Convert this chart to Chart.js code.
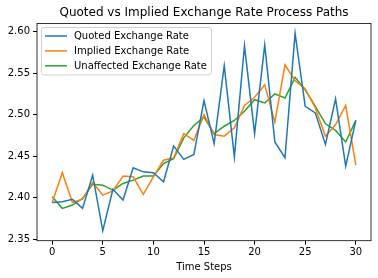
<!DOCTYPE html>
<html lang="en">
<head>
  <meta charset="UTF-8" />
  <title>Quoted vs Implied Exchange Rate Process Paths</title>
  <script src="https://cdn.jsdelivr.net/npm/chart.js"></script>
  <style>
    html, body { margin: 0; padding: 0; background: #fff; }
    #wrap { width: 378px; height: 278px; }
  </style>
</head>
<body>
  <div id="wrap"><canvas id="chartPaths" width="378" height="278"></canvas></div>

  <script>
    // data
    const steps = [0, 1, 2, 3, 4, 5, 6, 7, 8, 9, 10, 11, 12, 13, 14, 15, 16, 17, 18, 19, 20, 21, 22, 23, 24, 25, 26, 27, 28, 29, 30];
    const quoted = [2.394, 2.395, 2.398, 2.387, 2.427, 2.360, 2.410, 2.397, 2.436, 2.431, 2.430, 2.419, 2.462, 2.446, 2.452, 2.517,
      2.465, 2.559, 2.449, 2.583, 2.477, 2.584, 2.467, 2.448, 2.598, 2.510, 2.502, 2.464, 2.519, 2.438, 2.493];
    const implied = [2.394, 2.430, 2.394, 2.398, 2.418, 2.403, 2.408, 2.426, 2.425, 2.404, 2.425, 2.445, 2.448, 2.477, 2.469, 2.500,
      2.476, 2.474, 2.484, 2.511, 2.521, 2.536, 2.491, 2.560, 2.541, 2.531, 2.508, 2.474, 2.488, 2.511, 2.439];
    const unaffected = [2.401, 2.387, 2.391, 2.399, 2.416, 2.415, 2.409, 2.417, 2.421, 2.426, 2.426, 2.441, 2.447, 2.472, 2.487, 2.497,
      2.477, 2.486, 2.493, 2.504, 2.518, 2.514, 2.525, 2.520, 2.545, 2.530, 2.510, 2.489, 2.481, 2.467, 2.493];
    const seriesNames = ['Quoted Exchange Rate', 'Implied Exchange Rate', 'Unaffected Exchange Rate'];
    const seriesColors = ['#1f77b4', '#ff7f0e', '#2ca02c'];
    const xTicks = [0, 5, 10, 15, 20, 25, 30];
    const yTicks = [2.35, 2.40, 2.45, 2.50, 2.55, 2.60];

    const FONT = 'DejaVu Sans';

    function toPoints(vals) {
      return steps.map((s, i) => ({ x: s, y: vals[i] }));
    }

    // matplotlib style frame + legend inside the axes
    const framePlugin = {
      id: 'frame',
      afterDatasetsDraw(chart) {
        const ctx = chart.ctx;
        const a = chart.chartArea;
        ctx.save();
        ctx.strokeStyle = '#000';
        ctx.lineWidth = 0.8;
        ctx.strokeRect(a.left, a.top, a.right - a.left, a.bottom - a.top);

        // legend box
        const bx = 41.5, by = 27.5, bw = 170, bh = 47.5;
        ctx.beginPath();
        ctx.roundRect(bx, by, bw, bh, 2.5);
        ctx.fillStyle = 'rgba(255,255,255,0.8)';
        ctx.fill();
        ctx.strokeStyle = '#d0d0d0';
        ctx.lineWidth = 1;
        ctx.stroke();

        ctx.font = '10px "' + FONT + '"';
        ctx.textBaseline = 'middle';
        ctx.textAlign = 'left';
        seriesNames.forEach((name, i) => {
          const y = 36 + i * 14.9;
          ctx.beginPath();
          ctx.moveTo(45, y);
          ctx.lineTo(67, y);
          ctx.strokeStyle = seriesColors[i];
          ctx.lineWidth = 1.5;
          ctx.stroke();
          ctx.fillStyle = '#000';
          ctx.fillText(name, 74, y + 0.5);
        });
        ctx.restore();
      }
    };

    const ctxPaths = document.getElementById('chartPaths').getContext('2d');
    const chartPaths = new Chart(ctxPaths, {
      type: 'line',
      data: {
        datasets: [quoted, implied, unaffected].map((vals, i) => ({
          label: seriesNames[i],
          data: toPoints(vals),
          borderColor: seriesColors[i],
          backgroundColor: seriesColors[i],
          borderWidth: 1.5,
          pointRadius: 0,
          tension: 0,
          fill: false
        }))
      },
      options: {
        responsive: false,
        animation: false,
        layout: { padding: { left: 0, right: 7, top: 0, bottom: 0 } },
        plugins: {
          legend: { display: false },
          tooltip: { enabled: false },
          title: {
            display: true,
            fullSize: false,
            text: 'Quoted vs Implied Exchange Rate Process Paths',
            color: '#000',
            font: { family: FONT, size: 12, weight: 'normal' },
            padding: { top: 6, bottom: 3 }
          }
        },
        scales: {
          x: {
            type: 'linear',
            min: -1.5,
            max: 31.5,
            afterBuildTicks: (scale) => { scale.ticks = xTicks.map(v => ({ value: v })); },
            afterFit: (scale) => { scale.height = 37.3; },
            grid: { display: true, drawOnChartArea: false, drawTicks: true, tickLength: 4, color: '#000' },
            border: { display: false },
            ticks: { color: '#000', padding: 2, maxRotation: 0, font: { family: FONT, size: 10 } },
            title: {
              display: true,
              text: 'Time Steps',
              color: '#000',
              font: { family: FONT, size: 10 },
              padding: { top: 2, bottom: 5 }
            }
          },
          y: {
            min: 2.348,
            max: 2.610,
            afterBuildTicks: (scale) => { scale.ticks = yTicks.map(v => ({ value: v })); },
            afterFit: (scale) => { scale.width = 37; },
            grid: { display: true, drawOnChartArea: false, drawTicks: true, tickLength: 4, color: '#000' },
            border: { display: false },
            ticks: {
              color: '#000',
              padding: 3,
              font: { family: FONT, size: 10 },
              callback: (v) => Number(v).toFixed(2)
            }
          }
        }
      },
      plugins: [framePlugin]
    });
  </script>
</body>
</html>
